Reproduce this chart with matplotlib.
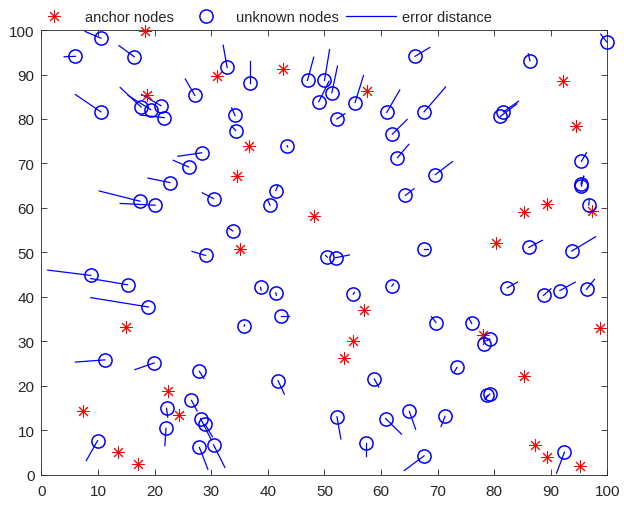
import matplotlib.pyplot as plt
from matplotlib.lines import Line2D

plt.rcParams['font.family'] = ['Liberation Sans', 'DejaVu Sans']

# anchor nodes (known positions)
anchor_x = [18.2, 31.0, 42.7, 57.5, 92.2, 18.6, 94.4, 36.7, 34.6, 48.1,
            85.2, 89.4, 97.2, 35.1, 80.3, 57.0, 15.0, 55.0, 78.0, 98.7,
            53.5, 85.3, 22.4, 7.4, 24.3, 13.5, 17.0, 87.2, 89.3, 95.1]
anchor_y = [99.7, 89.6, 91.3, 86.4, 88.5, 85.5, 78.5, 74.0, 67.1, 58.2,
            59.1, 60.8, 59.4, 50.7, 52.2, 37.0, 33.2, 30.1, 31.4, 32.9,
            26.3, 22.1, 18.8, 14.3, 13.4, 5.0, 2.4, 6.7, 3.9, 1.9]

# unknown nodes: real position
node_x = [10.5, 6.0, 16.4, 32.8, 27.1, 10.5, 17.6, 19.3, 21.1, 21.7,
          28.3, 26.0, 22.7, 36.8, 47.0, 50.0, 51.3, 49.0, 55.4, 34.2,
          34.3, 43.4, 52.2, 61.0, 62.0, 62.9, 66.0, 67.6, 86.3, 99.9,
          81.6, 81.1, 69.6, 95.4, 95.3, 95.4, 96.7, 86.1, 93.7, 67.5,
          82.3, 88.7, 91.6, 96.3, 69.7, 76.0, 64.3, 78.1, 79.2, 73.4,
          79.2, 78.8, 71.3, 65.0, 67.6, 92.4, 35.8, 41.8, 58.8, 52.2,
          60.8, 57.3, 11.2, 19.9, 27.9, 22.1, 26.5, 28.1, 28.9, 30.4,
          27.9, 22.0, 9.9, 17.4, 20.1, 30.4, 33.8, 29.0, 8.7, 15.2,
          18.9, 41.4, 40.4, 50.5, 52.0, 38.7, 41.4, 55.1, 61.9, 42.3]
node_y = [98.2, 94.1, 94.0, 91.6, 85.3, 81.6, 82.7, 82.1, 83.0, 80.3,
          72.4, 69.2, 65.7, 88.0, 88.7, 88.7, 85.9, 83.9, 83.7, 80.8,
          77.4, 74.0, 80.0, 81.5, 76.6, 71.3, 94.1, 81.6, 93.1, 97.3,
          81.6, 80.6, 67.5, 70.5, 65.4, 64.9, 60.6, 51.1, 50.3, 50.7,
          42.0, 40.3, 41.4, 41.7, 34.2, 34.0, 62.8, 29.3, 30.5, 24.1,
          18.1, 17.8, 13.1, 14.2, 4.2, 5.0, 33.4, 21.1, 21.5, 13.0,
          12.6, 7.2, 25.8, 25.1, 23.2, 14.9, 16.7, 12.6, 11.3, 6.7,
          6.1, 10.4, 7.6, 61.5, 60.6, 62.1, 54.8, 49.3, 44.8, 42.7,
          37.7, 63.9, 60.6, 48.9, 48.8, 42.1, 40.9, 40.6, 42.4, 35.6]

# unknown nodes: estimated position
est_x = [7.7, 4.0, 13.7, 32.1, 25.4, 6.0, 13.9, 15.3, 17.7, 17.4,
         24.1, 23.3, 18.8, 36.8, 48.1, 50.9, 52.3, 50.8, 56.9, 33.6,
         33.6, 43.5, 53.6, 63.3, 64.6, 64.9, 68.6, 71.4, 86.0, 98.8,
         84.3, 84.0, 72.6, 96.3, 95.8, 95.8, 96.8, 88.5, 97.9, 68.3,
         84.1, 90.0, 94.3, 97.7, 68.9, 75.5, 65.8, 78.4, 78.7, 72.9,
         78.4, 78.4, 70.6, 66.1, 64.1, 91.0, 35.9, 42.9, 59.6, 52.9,
         63.6, 57.3, 6.0, 16.5, 28.7, 22.3, 27.5, 30.0, 30.2, 32.4,
         29.4, 21.8, 7.9, 10.2, 13.9, 28.4, 33.0, 26.6, 1.1, 8.7,
         8.7, 41.8, 39.9, 50.2, 54.4, 38.8, 41.5, 55.3, 62.2, 43.7]
est_y = [99.7, 94.0, 96.5, 96.6, 89.0, 85.5, 87.1, 85.3, 85.5, 80.9,
         71.6, 70.7, 66.7, 93.1, 93.9, 95.6, 91.9, 88.5, 89.8, 82.5,
         78.4, 73.7, 81.2, 86.5, 79.9, 74.3, 96.1, 87.2, 94.7, 99.1,
         84.0, 83.4, 70.4, 72.4, 67.1, 67.1, 61.9, 52.7, 53.5, 50.7,
         43.3, 41.8, 43.3, 43.9, 35.5, 35.2, 64.3, 30.1, 30.1, 23.0,
         17.0, 17.0, 10.8, 10.2, 0.9, 0.3, 33.7, 18.1, 19.7, 8.0,
         9.1, 4.1, 25.3, 23.6, 21.6, 12.9, 14.3, 7.8, 8.5, 1.6,
         1.2, 6.5, 3.1, 63.8, 61.0, 63.4, 55.5, 50.2, 46.0, 44.1,
         39.8, 65.1, 61.9, 49.3, 49.4, 41.5, 40.3, 41.0, 42.9, 35.6]

fig = plt.figure(figsize=(6.24, 5.10), dpi=100)
ax = fig.add_axes([0.0665, 0.0676, 0.907, 0.8714])

asterisk = (8, 2, 0)
ax.plot(anchor_x, anchor_y, linestyle='none', marker=asterisk, markersize=9,
        markeredgecolor='red', markeredgewidth=0.7, clip_on=False, zorder=3)
ax.plot(node_x, node_y, linestyle='none', marker='o', markersize=9.5,
        markerfacecolor='none', markeredgecolor='blue', markeredgewidth=1.1,
        clip_on=False, zorder=3)
for x0, y0, x1, y1 in zip(node_x, node_y, est_x, est_y):
    ax.plot([x0, x1], [y0, y1], color='blue', linewidth=0.9, zorder=2)

ax.set_xlim(0, 100)
ax.set_ylim(0, 100)
ax.set_xticks(range(0, 101, 10))
ax.set_yticks(range(0, 101, 10))
ax.tick_params(direction='in', top=True, right=True, length=4,
               labelsize=11, colors='#262626', width=0.6)
ax.tick_params(axis='x', pad=7)
ax.tick_params(axis='y', pad=5)
for s in ax.spines.values():
    s.set_color('#262626')
    s.set_linewidth(0.6)

handles = [
    Line2D([], [], linestyle='none', marker=asterisk, markersize=9,
           markeredgecolor='red', markeredgewidth=0.7),
    Line2D([], [], linestyle='none', marker='o', markersize=9.5,
           markerfacecolor='none', markeredgecolor='blue', markeredgewidth=1.1),
    Line2D([], [], color='blue', linewidth=0.9),
]
labels = ['anchor nodes', 'unknown nodes', 'error distance']
fig.legend(handles, labels, loc='center left', ncol=3, frameon=False,
           bbox_to_anchor=(22 / 624, 1 - 18 / 510), borderpad=0,
           fontsize=10.5, handlelength=3.4, handletextpad=0.4,
           columnspacing=0.5, labelcolor='#262626')

fig.savefig('out.png', dpi=100)
